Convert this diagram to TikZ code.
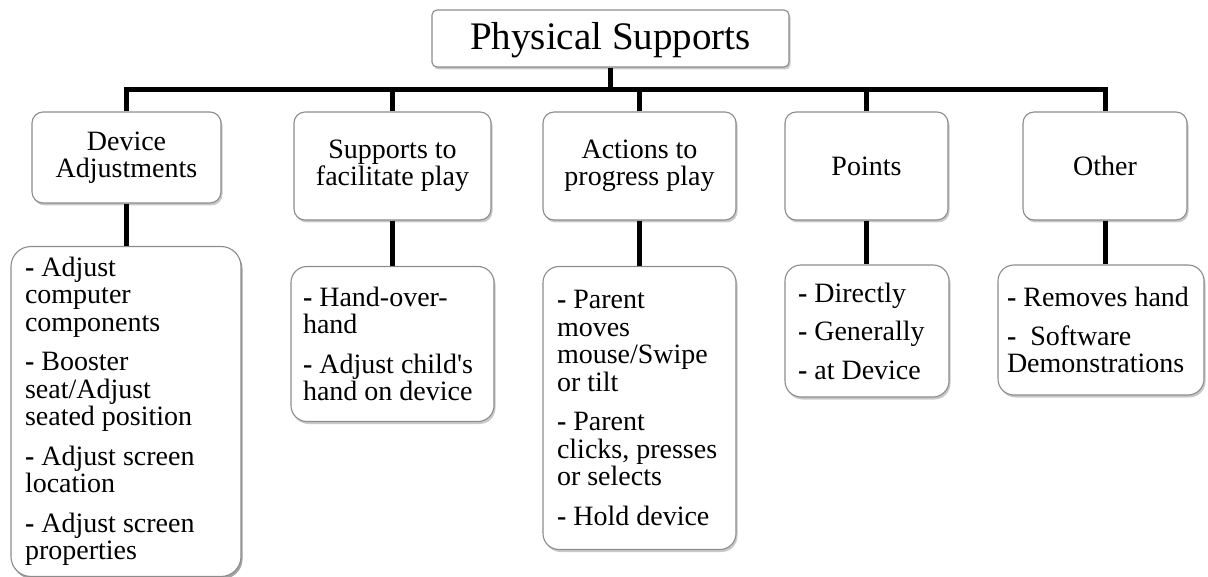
\documentclass[tikz,border=0pt]{standalone}
\usepackage{fontspec}
\setmainfont{Liberation Serif}
\newfontfamily\plainapos{Liberation Serif}
\usetikzlibrary{shadows}
\begin{document}
\begin{tikzpicture}[x=1pt,y=-1pt,
  box/.style={draw=black!45, line width=1.1pt, fill=white, rounded corners=#1,
    drop shadow={shadow xshift=1.5pt, shadow yshift=-2.5pt, opacity=0.3, fill=black!70}},
  titlebox/.style={box=5pt, minimum width=357pt, minimum height=57pt, inner sep=3pt,
    font=\fontsize{39}{40}\selectfont, text height=26pt, text depth=3pt},
  lvtwo/.style={box=11pt, align=center, inner sep=4pt,
    font=\fontsize{28}{27.5}\selectfont},
  lvthree/.style={box=16pt, align=flush left, inner xsep=14pt, inner ysep=4pt,
    font=\fontsize{28}{27.5}\selectfont},
  conn/.style={line width=5pt, line join=miter, line cap=butt}
]
\useasboundingbox (0,0) rectangle (1208,577);

% title
\node[titlebox] (title) at (610.5,38.5) {Physical Supports};

% level two
\node[lvtwo, minimum width=189pt, minimum height=91pt]  (L2a) at (126.5,157.5) {Device\\Adjustments};
\node[lvtwo, minimum width=197pt, minimum height=108pt] (L2b) at (392.5,166) {Supports to\\facilitate play};
\node[lvtwo, minimum width=193pt, minimum height=108pt] (L2c) at (639.5,166) {Actions to\\progress play};
\node[lvtwo, minimum width=163pt, minimum height=108pt] (L2d) at (866.5,166) {Points};
\node[lvtwo, minimum width=164pt, minimum height=108pt] (L2e) at (1105,166) {Other};

% level three
\node[lvthree, box=20pt, text width=202pt, minimum height=330pt] (L3a) at (126,411.5)
  {\textbf{-} Adjust\\computer\\components\\[12pt]
   \textbf{-} Booster\\seat/Adjust\\seated position\\[12pt]
   \textbf{-} Adjust screen\\location\\[12pt]
   \textbf{-} Adjust screen\\properties};
\node[lvthree, inner xsep=12pt, text width=179pt, minimum height=155pt] (L3b) at (392.5,344)
  {\textbf{-} Hand-over-\\hand\\[12pt]
   \textbf{-} Adjust child{\plainapos '}s\\hand on device};
\node[lvthree, inner xsep=14pt, text width=165pt, minimum height=283pt] (L3c) at (639.5,408)
  {\textbf{-} Parent\\moves\\mouse/Swipe\\or tilt\\[12pt]
   \textbf{-} Parent\\clicks, presses\\or selects\\[12pt]
   \textbf{-} Hold device};
\node[lvthree, inner xsep=13pt, text width=138pt, minimum height=132pt] (L3d) at (867,331)
  {\textbf{-} Directly\\[11pt]
   \textbf{-} Generally\\[11pt]
   \textbf{-} at Device};
\node[lvthree, inner xsep=9pt, text width=188pt, minimum height=130pt] (L3e) at (1101,330)
  {\textbf{-} Removes hand\\[11pt]
   \textbf{-}\ \ Software\\Demonstrations};

% connectors
\coordinate (bus) at (0,90);
\draw[conn] (title.south) -- (title.south |- bus);
\draw[conn] (L2a.north) -- (L2a.north |- bus) -- (L2e.north |- bus) -- (L2e.north);
\draw[conn] (L2b.north) -- (L2b.north |- bus);
\draw[conn] (L2c.north) -- (L2c.north |- bus);
\draw[conn] (L2d.north) -- (L2d.north |- bus);

\draw[conn] (L2a.south) -- (L2a.south |- L3a.north);
\draw[conn] (L2b.south) -- (L2b.south |- L3b.north);
\draw[conn] (L2c.south) -- (L2c.south |- L3c.north);
\draw[conn] (L2d.south) -- (L2d.south |- L3d.north);
\draw[conn] (L2e.south) -- (L2e.south |- L3e.north);
\end{tikzpicture}
\end{document}
